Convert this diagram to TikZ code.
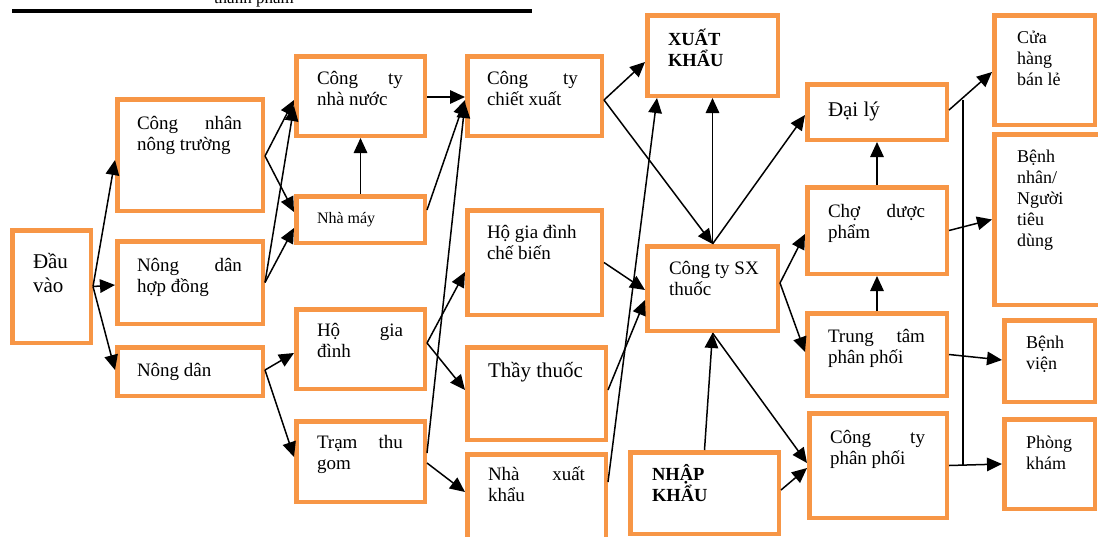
\documentclass[tikz,border=0pt]{standalone}
\usepackage{fontspec}
\setmainfont{Liberation Serif}
\usetikzlibrary{arrows.meta}
\definecolor{boxorange}{RGB}{247,150,70}
\newcommand{\stk}[1]{\vtop{\lineskiplimit=-1000pt\relax #1}}
\begin{document}
\begin{tikzpicture}[x=1pt,y=-1pt,
  box/.style={draw=boxorange, line width=4.5pt, inner sep=0pt, outer sep=2.25pt, fill=white},
  arr/.style={-{Triangle[length=15pt,width=13.5pt]}, line width=1.5pt, black},
  ln/.style={line width=1.5pt, black},
  txt/.style={anchor=base west, inner sep=0pt, outer sep=0pt, font=\fontsize{19}{21}\selectfont},
  big/.style={font=\fontsize{21}{24}\selectfont},
  small/.style={font=\fontsize{16}{19}\selectfont},
  rgt/.style={font=\fontsize{18}{21}\selectfont},
  bld/.style={font=\fontsize{18.5}{21.5}\selectfont\bfseries}]
\useasboundingbox (0,0) rectangle (1098,536);

% top rule and cut-off caption
\node[txt, font=\fontsize{17}{20}\selectfont] (cap) at (214,3) {thành phẩm};
\coordinate (tl1) at (12,11);
\coordinate (tl2) at (532,11);
\draw[line width=4pt] (tl1) -- (tl2);

% boxes
\node[box, minimum width=78.5pt,  minimum height=112.5pt] (in)    at (51.5,286.5) {};
\node[box, minimum width=145.5pt, minimum height=111.5pt] (cn)    at (190,155) {};
\node[box, minimum width=145.5pt, minimum height=82.5pt]  (ndhd)  at (190,282.5) {};
\node[box, minimum width=145.5pt, minimum height=48.5pt]  (nd)    at (190,371.5) {};
\node[box, minimum width=128.5pt, minimum height=79.5pt]  (ctnn)  at (360.5,96) {};
\node[box, minimum width=128.5pt, minimum height=46.5pt]  (nm)    at (360.5,219.5) {};
\node[box, minimum width=128.5pt, minimum height=79.5pt]  (hgd)   at (360.5,349) {};
\node[box, minimum width=128.5pt, minimum height=80.5pt]  (ttg)   at (360.5,461.5) {};
\node[box, minimum width=134.5pt, minimum height=79.5pt]  (ctcx)  at (534.5,96) {};
\node[box, minimum width=134.5pt, minimum height=104.5pt] (hgdcb) at (534.5,262.5) {};
\node[box, minimum width=138.5pt, minimum height=92.5pt]  (tt)    at (536.5,393.5) {};
\node[box, minimum width=138.5pt, minimum height=88.5pt]  (nxk)   at (536.5,498.5) {};
\node[box, minimum width=130.5pt, minimum height=80.5pt]  (xk)    at (712.5,55.5) {};
\node[box, minimum width=130.5pt, minimum height=84.5pt]  (sx)    at (712.5,288.5) {};
\node[box, minimum width=148.5pt, minimum height=81.5pt]  (nk)    at (704.5,493) {};
\node[box, minimum width=139.5pt, minimum height=55.5pt]  (dl)    at (877,112) {};
\node[box, minimum width=139.5pt, minimum height=86.5pt]  (cho)   at (877,230.5) {};
\node[box, minimum width=139.5pt, minimum height=82.5pt]  (ttpp)  at (877,354.5) {};
\node[box, minimum width=137.5pt, minimum height=104.5pt] (ctpp)  at (878,465.5) {};
\node[box, minimum width=100.5pt, minimum height=109.5pt] (ch)    at (1044.5,70) {};
\node[box, minimum width=118.5pt, minimum height=170.5pt] (bn)    at (1053.5,219.5) {};
\node[box, minimum width=90.5pt,  minimum height=81.5pt]  (bv)    at (1049.5,361) {};
\node[box, minimum width=90.5pt,  minimum height=89.5pt]  (pk)    at (1049.5,464) {};

% texts
\node[txt, big] (t-in) at (33,268) {\stk{\hbox{Đầu}\hbox{vào}}};
\node[txt] (t-cn) at (137,129) {\stk{\hbox{\makebox[105pt][s]{Công nhân}}\hbox{nông trường}}};
\node[txt] (t-ndhd) at (137,271) {\stk{\hbox{\makebox[105pt][s]{Nông dân}}\hbox{hợp đồng}}};
\node[txt] (t-nd) at (137,376) {Nông dân};
\node[txt] (t-ctnn) at (317,84) {\stk{\hbox{\makebox[86pt][s]{Công ty}}\hbox{nhà nước}}};
\node[txt, small] (t-nm) at (317,223) {Nhà máy};
\node[txt] (t-hgd) at (317,336) {\stk{\hbox{\makebox[86pt][s]{Hộ gia}}\hbox{đình}}};
\node[txt] (t-ttg) at (317,448) {\stk{\hbox{\makebox[86pt][s]{Trạm thu}}\hbox{gom}}};
\node[txt] (t-ctcx) at (487,84) {\stk{\hbox{\makebox[91pt][s]{Công ty}}\hbox{chiết xuất}}};
\node[txt] (t-hgdcb) at (487,238) {\stk{\hbox{Hộ gia đình}\hbox{chế biến}}};
\node[txt, big] (t-tt) at (488,377) {Thầy thuốc};
\node[txt] (t-nxk) at (488,480) {\stk{\hbox{\makebox[97pt][s]{Nhà xuất}}\hbox{khẩu}}};
\node[txt, bld] (t-xk) at (668,45) {\stk{\hbox{XUẤT}\hbox{KHẨU}}};
\node[txt] (t-sx) at (669,274) {\stk{\hbox{Công ty SX}\hbox{thuốc}}};
\node[txt, bld] (t-nk) at (652,480) {\stk{\hbox{NHẬP}\hbox{KHẨU}}};
\node[txt, big] (t-dl) at (828,116) {Đại lý};
\node[txt] (t-cho) at (828,217) {\stk{\hbox{\makebox[97pt][s]{Chợ dược}}\hbox{phẩm}}};
\node[txt] (t-ttpp) at (828,342) {\stk{\hbox{\makebox[97pt][s]{Trung tâm}}\hbox{phân phối}}};
\node[txt] (t-ctpp) at (830,443) {\stk{\hbox{\makebox[95pt][s]{Công ty}}\hbox{phân phối}}};
\node[txt, rgt] (t-ch) at (1017,43) {\stk{\hbox{Cửa}\hbox{hàng}\hbox{bán lẻ}}};
\node[txt, rgt] (t-bn) at (1017,162) {\stk{\hbox{Bệnh}\hbox{nhân/}\hbox{Người}\hbox{tiêu}\hbox{dùng}}};
\node[txt, rgt] (t-bv) at (1026,348) {\stk{\hbox{Bệnh}\hbox{viện}}};
\node[txt, rgt] (t-pk) at (1026,448) {\stk{\hbox{Phòng}\hbox{khám}}};

% connectors
\draw[arr] (in.east) -- ([yshift=-5pt]cn.west);
\draw[arr] (in.east) -- ([yshift=-2.5pt]ndhd.west);
\draw[arr] (in.east) -- ([yshift=1.5pt]nd.west);
\draw[arr] ([yshift=-1pt]cn.east) -- ([yshift=-4pt]ctnn.west);
\draw[arr] ([yshift=-1pt]cn.east) -- ([yshift=7.5pt]nm.west);
\draw[arr] (ndhd.east) -- ([yshift=-10pt]ctnn.west);
\draw[arr] (ndhd.east) -- ([yshift=-8.5pt]nm.west);
\draw[arr] ([yshift=1.5pt]nd.east) -- ([yshift=-4pt]hgd.west);
\draw[arr] ([yshift=1.5pt]nd.east) -- ([yshift=4.5pt]ttg.west);
\draw[arr] (nm.north) -- (ctnn.south);
\draw[arr] ([yshift=-1pt]ctnn.east) -- ([yshift=-1pt]ctcx.west);
\draw[arr] ([yshift=9.5pt]nm.east) -- ([yshift=-4pt]ctcx.west);
\draw[arr] ([yshift=8.5pt]ttg.east) -- ([yshift=-7pt]ctcx.west);
\draw[arr] ([yshift=-1.5pt]ttg.east) -- ([yshift=6.5pt]nxk.west);
\draw[arr] ([yshift=6pt]hgd.east) -- ([yshift=-9.5pt]hgdcb.west);
\draw[arr] ([yshift=6pt]hgd.east) -- ([yshift=3.5pt]tt.west);
\draw[arr] ([yshift=-4pt]ctcx.east) -- ([yshift=-6.5pt]xk.west);
\draw[arr] ([yshift=-4pt]ctcx.east) -- (sx.north);
\draw[arr] (hgdcb.east) -- ([yshift=-1.5pt]sx.west);
\draw[arr] ([yshift=3.5pt]tt.east) -- ([yshift=-11.5pt]sx.west);
\draw[arr] ([yshift=16.5pt]nxk.east) -- ([xshift=-55.5pt]xk.south);
\draw[arr] (sx.north) -- (xk.south);
\draw[arr] (sx.north) -- ([yshift=-3pt]dl.west);
\draw[arr] ([yshift=5.5pt]sx.east) -- ([yshift=-3.5pt]cho.west);
\draw[arr] ([yshift=5.5pt]sx.east) -- ([yshift=2.5pt]ttpp.west);
\draw[arr] (sx.south) -- ([yshift=2.5pt]ctpp.west);
\draw[arr] (nk.north) -- (sx.south);
\draw[arr] ([yshift=3pt]nk.east) -- ([yshift=-2.5pt]ctpp.west);
\draw[arr] (cho.north) -- (dl.south);
\draw[arr] (ttpp.north) -- (cho.south);
\draw[arr] ([yshift=2pt]dl.east) -- ([yshift=-2pt]ch.west);
\draw[arr] (cho.east) -- (bn.west);
\draw[arr] (ttpp.east) -- ([yshift=1pt]bv.west);
\draw[arr] (ctpp.east) -- (pk.west);
\coordinate (vtop) at (963,100);
\coordinate (vbot) at (963,465);
\draw[ln] (vtop) -- (vbot);
\end{tikzpicture}
\end{document}
